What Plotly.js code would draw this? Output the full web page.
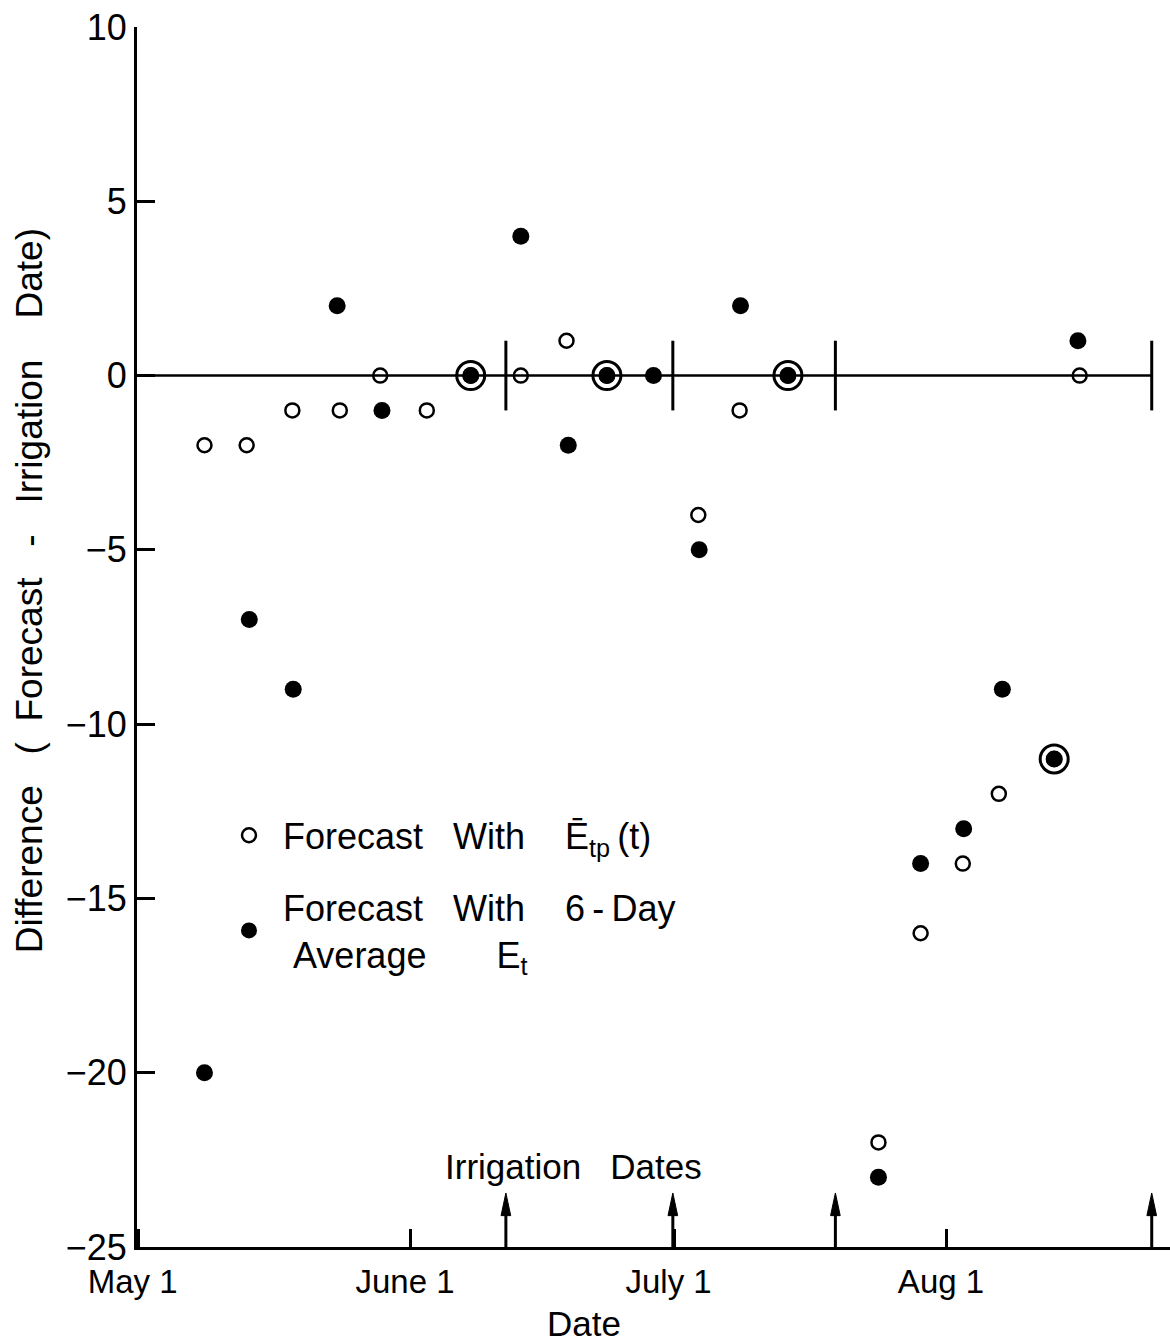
<!DOCTYPE html>
<html>
<head>
<meta charset="utf-8">
<script src="https://cdn.plot.ly/plotly-3.0.1.min.js"></script>
<style>
  html, body { margin: 0; padding: 0; background: #ffffff; }
  #chart { width: 1170px; height: 1344px; }
</style>
</head>
<body>
<div id="chart"></div>
<script>
// ---- data (x in days after May 1) ----
const monthTickDays = [0, 31, 61, 92];
const monthTickLabels = ['May 1', 'June 1', 'July 1', 'Aug 1'];
const yTickValues = [-25, -20, -15, -10, -5, 0, 5, 10];

// Forecast with mean potential ET, Etp(t) (open circles)
const etpDays = [7.5, 12.3, 17.5, 22.9, 27.5, 32.8, 37.8, 43.5, 48.7, 53.3, 63.7, 68.4, 73.9, 84.2, 89.0, 93.8, 97.9, 104.2, 107.1];
const etpDiff = [-2, -2, -1, -1, 0, -1, 0, 0, 1, 0, -4, -1, 0, -22, -16, -14, -12, -11, 0];

// Forecast with 6-day average Et (filled circles)
const avgDays = [7.5, 12.6, 17.6, 22.6, 27.7, 37.8, 43.5, 48.9, 53.3, 58.6, 63.8, 68.5, 73.9, 84.2, 89.0, 93.9, 98.3, 104.2, 106.9];
const avgDiff = [-20, -7, -9, 2, -1, 0, 4, -2, 0, 0, -5, 2, 0, -23, -14, -13, -9, -11, 1];

// Irrigation dates (days after May 1)
const irrigationDays = [41.8, 60.8, 79.3, 115.3];

const xRange = [-0.18, 117.38];
const yRange = [-25, 10];

// ---- derived ----
// points where both forecasts coincide -> drawn with an extra ring
const ringDays = [], ringDiff = [];
avgDays.forEach((d, i) => {
  etpDays.forEach((e, j) => {
    if (Math.abs(e - d) < 0.5 && etpDiff[j] === avgDiff[i]) { ringDays.push(d); ringDiff.push(avgDiff[i]); }
  });
});

const barX = [], barY = [];
irrigationDays.forEach(d => { barX.push(d, d, null); barY.push(-1, 1, null); });

const FONT = 'Liberation Sans, Arial, sans-serif';
const INK = '#000000';
const S = '\u00a0';
const sp = n => S.repeat(n);

const traces = [
  { x: [xRange[0], irrigationDays[irrigationDays.length - 1]], y: [0, 0], mode: 'lines',
    line: { color: INK, width: 2.5 }, showlegend: false, hoverinfo: 'skip' },
  { x: barX, y: barY, mode: 'lines', line: { color: INK, width: 3 }, showlegend: false, hoverinfo: 'skip' },
  { x: etpDays, y: etpDiff, mode: 'markers',
    name: 'Forecast' + sp(3) + 'With' + sp(4) + '\u0112<sub>tp</sub>\u2009(t)',
    legendgroup: 'a',
    marker: { symbol: 'circle-open', size: 14, color: INK, line: { width: 2.5, color: INK } } },
  { x: avgDays, y: avgDiff, mode: 'markers',
    name: 'Forecast' + sp(3) + 'With' + sp(4) + '6\u2009-\u2009Day<br>' + S + 'Average' + sp(7) + 'E<sub>t</sub>',
    legendgroup: 'b',
    marker: { symbol: 'circle', size: 17, color: INK } },
  { x: ringDays, y: ringDiff, mode: 'markers', showlegend: false, hoverinfo: 'skip',
    marker: { symbol: 'circle-open', size: 28, color: INK, line: { width: 3, color: INK } } }
];

// irrigation arrows on the x axis
const shapes = [];
irrigationDays.forEach(d => {
  shapes.push({ type: 'line', xref: 'x', yref: 'y', x0: d, x1: d, y0: yRange[0], y1: -23.9,
    line: { color: INK, width: 3 } });
  shapes.push({ type: 'path', xref: 'x', yref: 'y',
    path: `M ${d - 0.55},-24.1 L ${d},-23.45 L ${d + 0.55},-24.1 Z`,
    fillcolor: INK, line: { color: INK, width: 1 } });
});

const layout = {
  width: 1170, height: 1344,
  margin: { l: 137, r: 0, t: 27, b: 97 },
  paper_bgcolor: '#ffffff', plot_bgcolor: '#ffffff',
  font: { family: FONT, color: INK, size: 33 },
  showlegend: true,
  legend: { x: 0.0755, y: 0.362, xanchor: 'left', yanchor: 'top', itemwidth: 58,
    tracegroupgap: 22, font: { family: FONT, size: 36, color: INK }, bgcolor: 'rgba(0,0,0,0)' },
  xaxis: {
    range: xRange, tickmode: 'array', tickvals: monthTickDays, ticktext: monthTickLabels,
    ticks: 'inside', ticklen: 18, tickwidth: 3, tickcolor: INK,
    showline: true, linewidth: 3, linecolor: INK, showgrid: false, zeroline: false,
    tickfont: { family: FONT, size: 33, color: INK }, ticklabelshift: -6, ticklabelstandoff: 3
  },
  yaxis: {
    range: yRange, tickmode: 'array', tickvals: yTickValues,
    ticks: 'inside', ticklen: 18, tickwidth: 3, tickcolor: INK,
    showline: true, linewidth: 3, linecolor: INK, showgrid: false, zeroline: false,
    tickfont: { family: FONT, size: 36, color: INK }
  },
  shapes: shapes,
  annotations: [
    { xref: 'paper', yref: 'paper', x: -0.104, y: 0.538, textangle: -90, showarrow: false,
      xanchor: 'center', yanchor: 'middle',
      text: 'Difference' + sp(3) + '(' + sp(2) + 'Forecast' + sp(3) + '-' + sp(3) + 'Irrigation' + sp(4) + 'Date)',
      font: { family: FONT, size: 37, color: INK } },
    { xref: 'paper', yref: 'paper', x: 0.433, y: -0.0625, showarrow: false,
      xanchor: 'center', yanchor: 'middle', text: 'Date',
      font: { family: FONT, size: 35, color: INK } },
    { xref: 'paper', yref: 'paper', x: 0.423, y: 0.0656, showarrow: false,
      xanchor: 'center', yanchor: 'middle', text: 'Irrigation' + sp(3) + 'Dates',
      font: { family: FONT, size: 35, color: INK } }
  ]
};

Plotly.newPlot('chart', traces, layout, { displayModeBar: false, staticPlot: true });
</script>
</body>
</html>
